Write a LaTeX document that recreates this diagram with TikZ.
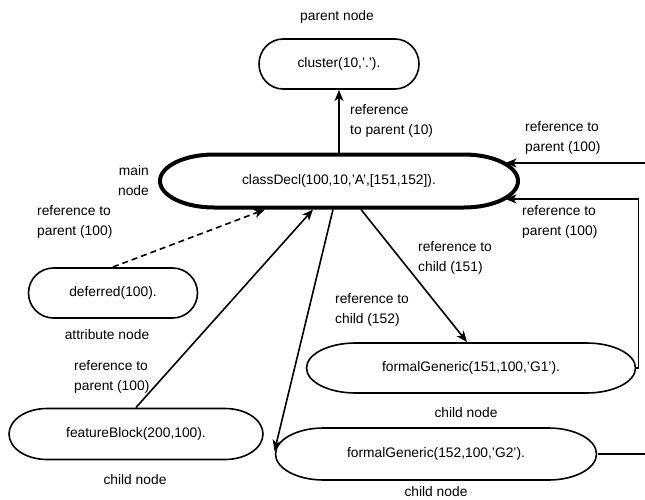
\documentclass[tikz,border=0pt]{standalone}
\usepackage{fontspec}
\setmainfont{Liberation Sans}
\usetikzlibrary{calc, arrows.meta}
\tikzset{
    obj/.style={rectangle, minimum height=50pt, inner sep=2pt, outer sep=0pt, font=\fontsize{13.8}{20}\selectfont},
    outline/.style={draw, line width=1.6pt},
    note/.style={align=left, inner sep=0pt, font=\fontsize{13.8}{20}\selectfont},
    ref/.style={line width=1.6pt, -{Stealth[length=11pt, width=9pt, inset=3pt]}}
}
% pill outline with elliptic ends round a node: #2 node, #3 x radius of the ends
\newcommand{\pill}[3][]{%
    \draw[outline, #1] let \p1=($(#2.north east)-(#2.south west)$) in
        ($(#2.north west)+(#3,0)$) -- ($(#2.north east)-(#3,0)$)
        arc[start angle=90, end angle=-90, x radius=#3pt, y radius=0.5*\y1]
        -- ($(#2.south west)+(#3,0)$)
        arc[start angle=270, end angle=90, x radius=#3pt, y radius=0.5*\y1] -- cycle;}

\begin{document}
\begin{tikzpicture}[x=1pt, y=-1pt]
    \useasboundingbox (0,0) rectangle (645,500);

    \node[obj, minimum width=160pt] (parent) at (339,64) {cluster(10,'.').};
    \node[obj, minimum width=358pt, minimum height=53pt] (main) at (339,181) {classDecl(100,10,'A',[151,152]).};
    \node[obj, minimum width=169pt] (attr) at (113,293) {deferred(100).};
    \node[obj, minimum width=329pt] (fg1) at (471,368) {formalGeneric(151,100,'G1').};
    \node[obj, minimum width=254pt, minimum height=51pt] (block) at (136,434) {featureBlock(200,100).};
    \node[obj, minimum width=321pt, minimum height=52pt] (fg2) at (436,454) {formalGeneric(152,100,'G2').};

    \pill{parent}{24}
    \pill[line width=4pt]{main}{54}
    \pill{attr}{25}
    \pill{fg1}{49}
    \pill{block}{38}
    \pill{fg2}{48}

    \node[note] (lparent) at (337,17) {parent node};
    \node[note, anchor=west] (lref10) at (350,121) {reference\\to parent (10)};
    \node[note, anchor=west] (lreftop) at (525,138) {reference to\\parent (100)};
    \node[note, anchor=east, align=right] (lmain) at (149,181) {main\\node};
    \node[note, anchor=west] (lrefloop) at (522,222) {reference to\\parent (100)};
    \node[note, anchor=west] (lrefattr) at (37,222) {reference to\\parent (100)};
    \node[note, anchor=west] (lref151) at (418,258) {reference to\\child (151)};
    \node[note] (lattr) at (107,335) {attribute node};
    \node[note, anchor=west] (lref152) at (335,310) {reference to\\child (152)};
    \node[note] (lfg1) at (466,413) {child node};
    \node[note, anchor=west] (lrefblock) at (74,377) {reference to\\parent (100)};
    \node[note] (lblock) at (135,480) {child node};
    \node[note] (lfg2) at (436,492) {child node};

    % references leaving the picture on the right
    \coordinate (rtop) at (645,163);
    \coordinate (rbot) at (645,454);

    \draw[ref] ($(main.north)+(0,-2)$) -- ($(parent.south)+(0,1)$);
    \draw[ref] (rtop) -- ($(main.east)+(-12.5,-18)$);
    \draw[ref] (fg1.east) -- ++(3,0) |- ($(main.east)+(-12.5,18)$);
    \draw[ref, dash pattern=on 6pt off 4pt] ($(attr.north)+(0,-1)$) -- ($(main.south)+(-74,2)$);
    \draw[ref] ($(block.north)+(0,-1)$) -- ($(main.south)+(-26,2)$);
    \draw[ref] ($(main.south)+(-6,2)$) -- ($(fg2.west)+(-1,-3)$);
    \draw[ref] ($(main.south)+(22,2)$) -- ($(fg1.north)+(-4,-1)$);
    \draw[line width=1.6pt] ($(fg2.east)+(1,0)$) -- (rbot);
\end{tikzpicture}
\end{document}
